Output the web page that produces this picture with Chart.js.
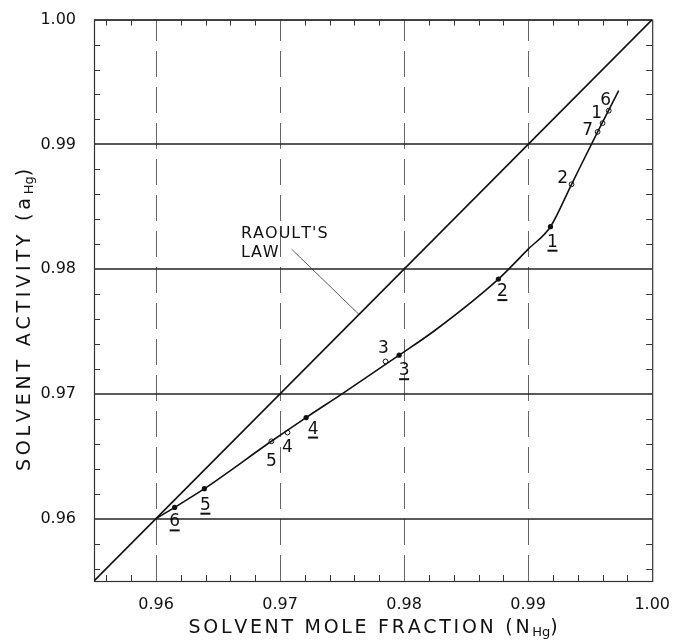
<!DOCTYPE html>
<html>
<head>
<meta charset="utf-8">
<script src="https://cdn.jsdelivr.net/npm/chart.js@4.4.1/dist/chart.umd.min.js"></script>
<style>
  body { margin: 0; background: #fff; }
  canvas { display: block; }
</style>
</head>
<body>
<canvas id="activityChart" width="676" height="641"></canvas>
<script>
// axis range and ticks
const axisMin = 0.955;
const axisMax = 1.0;
const majorTicks = [0.96, 0.97, 0.98, 0.99, 1.00];
const majorTickLabels = ['0.96', '0.97', '0.98', '0.99', '1.00'];
const minorTicks = [0.956, 0.958, 0.962, 0.964, 0.966, 0.968, 0.972, 0.974, 0.976, 0.978,
                    0.982, 0.984, 0.986, 0.988, 0.992, 0.994, 0.996, 0.998];

// Raoult's law line
const raoultX = [0.955, 1.0];
const raoultY = [0.955, 1.0];

// measured curve
const curveX = [0.9600, 0.9615, 0.9639, 0.9693, 0.9721, 0.9750, 0.9796, 0.9825, 0.9876, 0.9900, 0.9918, 0.9935, 0.9956, 0.9973];
const curveY = [0.9600, 0.9609, 0.9624, 0.9662, 0.9681, 0.9700, 0.9731, 0.9751, 0.9792, 0.9816, 0.9834, 0.9868, 0.9910, 0.9943];

// filled points (underlined numbers)
const filledX = [0.9615, 0.9639, 0.9721, 0.9796, 0.9876, 0.9918];
const filledY = [0.9609, 0.9624, 0.9681, 0.9731, 0.9792, 0.9834];
const filledLabels = ['6', '5', '4', '3', '2', '1'];

// open points
const openX = [0.9693, 0.9706, 0.9785, 0.9935, 0.9956, 0.9960, 0.9965];
const openY = [0.9662, 0.9669, 0.9726, 0.9868, 0.9910, 0.9917, 0.9927];
const openLabels = ['5', '4', '3', '2', '7', '1', '6'];

// annotation
const raoultText = ["RAOULT'S", 'LAW'];
const raoultTextAt = [0.96685, 0.98281];
const leaderX = [0.97094, 0.97634];
const leaderY = [0.98159, 0.97639];

// label placement (pixels, relative to the point, to the label centre)
const filledOffsets = [[0, 13], [1, 15], [7, 10], [5, 14], [4, 11], [2, 14]];
const openOffsets = [[0, 19], [0, 13], [-2, -14], [-9, -7], [-10, -3], [-6, -11], [-3, -12]];

const FONT = '"DejaVu Sans", "Liberation Sans", sans-serif';
const INK = '#111';

function pts(xs, ys) {
    return xs.map((x, i) => ({ x: x, y: ys[i] }));
}

// text drawn char by char with extra spacing
function spacedWidth(ctx, parts, spacing) {
    let w = 0;
    parts.forEach(p => {
        ctx.font = p.font;
        const s = p.tight ? 0 : spacing;
        for (const ch of p.text) w += ctx.measureText(ch).width + s;
    });
    return w;
}

function drawSpaced(ctx, parts, x, y, spacing) {
    let cx = x;
    parts.forEach(p => {
        ctx.font = p.font;
        const s = p.tight ? 0 : spacing;
        for (const ch of p.text) {
            ctx.fillText(ch, cx, y + (p.dy || 0));
            cx += ctx.measureText(ch).width + s;
        }
    });
}

function countSpaced(parts) {
    return parts.reduce((n, p) => n + (p.tight ? 0 : [...p.text].length), 0);
}

const framePlugin = {
    id: 'frame',
    beforeDatasetsDraw(chart) {
        const { ctx, chartArea: a, scales: { x, y } } = chart;
        ctx.save();
        // vertical dashed lines
        ctx.strokeStyle = '#666';
        ctx.lineWidth = 1;
        ctx.setLineDash([26, 10]);
        majorTicks.slice(0, 4).forEach(v => {
            const px = Math.round(x.getPixelForValue(v)) + 0.5;
            ctx.beginPath();
            ctx.moveTo(px, a.bottom);
            ctx.lineTo(px, a.top);
            ctx.stroke();
        });
        ctx.setLineDash([]);
        // horizontal solid lines
        ctx.strokeStyle = '#222';
        ctx.lineWidth = 1.5;
        majorTicks.forEach(v => {
            const py = Math.round(y.getPixelForValue(v));
            ctx.beginPath();
            ctx.moveTo(a.left, py);
            ctx.lineTo(a.right, py);
            ctx.stroke();
        });
        // frame
        ctx.lineWidth = 1.2;
        ctx.strokeStyle = '#333';
        ctx.strokeRect(a.left + 0.5, a.top + 0.5, a.right - a.left, a.bottom - a.top);
        // minor ticks pointing inward
        ctx.lineWidth = 1;
        const len = 6;
        minorTicks.forEach(v => {
            const px = Math.round(x.getPixelForValue(v)) + 0.5;
            const py = Math.round(y.getPixelForValue(v)) + 0.5;
            ctx.beginPath();
            ctx.moveTo(px, a.bottom); ctx.lineTo(px, a.bottom - len);
            ctx.moveTo(px, a.top); ctx.lineTo(px, a.top + len);
            ctx.moveTo(a.left, py); ctx.lineTo(a.left + len, py);
            ctx.moveTo(a.right, py); ctx.lineTo(a.right - len, py);
            ctx.stroke();
        });
        ctx.restore();
    },
    afterDraw(chart) {
        const { ctx, chartArea: a, scales: { x, y } } = chart;
        ctx.save();
        ctx.fillStyle = INK;
        ctx.strokeStyle = INK;
        ctx.textAlign = 'center';
        ctx.textBaseline = 'alphabetic';

        // point labels (baseline = centre + 6)
        ctx.font = '17px ' + FONT;
        filledLabels.forEach((t, i) => {
            const px = x.getPixelForValue(filledX[i]) + filledOffsets[i][0];
            const py = y.getPixelForValue(filledY[i]) + filledOffsets[i][1];
            ctx.fillText(t, px, py + 6);
            ctx.lineWidth = 2;
            ctx.beginPath();
            ctx.moveTo(px - 5, py + 10);
            ctx.lineTo(px + 5, py + 10);
            ctx.stroke();
        });
        openLabels.forEach((t, i) => {
            const px = x.getPixelForValue(openX[i]) + openOffsets[i][0];
            const py = y.getPixelForValue(openY[i]) + openOffsets[i][1];
            ctx.fillText(t, px, py + 6);
        });

        // Raoult's law label
        ctx.textAlign = 'left';
        ctx.textBaseline = 'middle';
        const rx = x.getPixelForValue(raoultTextAt[0]);
        const ry = y.getPixelForValue(raoultTextAt[1]);
        raoultText.forEach((t, i) => {
            drawSpaced(ctx, [{ text: t, font: '16px ' + FONT }], rx, ry + i * 19, 1);
        });

        // x axis title
        const big = '19px ' + FONT;
        const small = '13px ' + FONT;
        const xParts = [
            { text: 'SOLVENT MOLE FRACTION (N', font: big },
            { text: 'Hg', font: small, dy: 5, tight: true },
            { text: ')', font: big }
        ];
        const xTarget = 372;
        const xSp = (xTarget - spacedWidth(ctx, xParts, 0)) / countSpaced(xParts);
        const xw = spacedWidth(ctx, xParts, xSp) - xSp;
        drawSpaced(ctx, xParts, (a.left + a.right) / 2 - xw / 2, 628, xSp);

        // y axis title
        const yParts = [
            { text: 'SOLVENT ACTIVITY (a', font: big },
            { text: 'Hg', font: small, dy: 5, tight: true },
            { text: ')', font: big }
        ];
        const yTarget = 306;
        const ySp = (yTarget - spacedWidth(ctx, yParts, 0)) / countSpaced(yParts);
        const yw = spacedWidth(ctx, yParts, ySp) - ySp;
        ctx.translate(25, 320);
        ctx.rotate(-Math.PI / 2);
        drawSpaced(ctx, yParts, -yw / 2, 0, ySp);
        ctx.restore();
    }
};

function fixedTicks(scale) {
    scale.ticks = majorTicks.map(v => ({ value: v }));
}

function tickLabel(value) {
    const i = majorTicks.findIndex(v => Math.abs(v - value) < 1e-6);
    return i >= 0 ? majorTickLabels[i] : '';
}

const ctx = document.getElementById('activityChart').getContext('2d');
new Chart(ctx, {
    type: 'scatter',
    data: {
        datasets: [
            {
                label: "Raoult's law",
                data: pts(raoultX, raoultY),
                showLine: true,
                borderColor: INK,
                borderWidth: 1.6,
                pointRadius: 0
            },
            {
                label: 'leader',
                data: pts(leaderX, leaderY),
                showLine: true,
                borderColor: '#333',
                borderWidth: 0.8,
                pointRadius: 0
            },
            {
                label: 'curve',
                data: pts(curveX, curveY),
                showLine: true,
                cubicInterpolationMode: 'monotone',
                borderColor: INK,
                borderWidth: 1.6,
                pointRadius: 0
            },
            {
                label: 'filled',
                data: pts(filledX, filledY),
                pointRadius: 2.6,
                pointBackgroundColor: INK,
                pointBorderColor: INK,
                pointBorderWidth: 0
            },
            {
                label: 'open',
                data: pts(openX, openY),
                pointRadius: 2.4,
                pointBackgroundColor: '#fff',
                pointBorderColor: INK,
                pointBorderWidth: 1
            }
        ]
    },
    options: {
        responsive: false,
        animation: false,
        layout: { padding: { left: 0, top: 18, right: 21, bottom: 0 } },
        plugins: {
            legend: { display: false },
            tooltip: { enabled: false }
        },
        scales: {
            x: {
                type: 'linear',
                min: axisMin,
                max: axisMax,
                afterBuildTicks: fixedTicks,
                afterFit: s => { s.height = 60; },
                grid: { display: false },
                border: { display: false },
                ticks: {
                    callback: tickLabel,
                    padding: 6,
                    maxRotation: 0,
                    autoSkip: false,
                    color: INK,
                    font: { family: FONT, size: 16 }
                }
            },
            y: {
                type: 'linear',
                min: axisMin,
                max: axisMax,
                afterBuildTicks: fixedTicks,
                afterFit: s => { s.width = 94; },
                grid: { display: false },
                border: { display: false },
                ticks: {
                    callback: tickLabel,
                    padding: 10,
                    autoSkip: false,
                    color: INK,
                    font: { family: FONT, size: 16 }
                }
            }
        }
    },
    plugins: [framePlugin]
});
</script>
</body>
</html>
